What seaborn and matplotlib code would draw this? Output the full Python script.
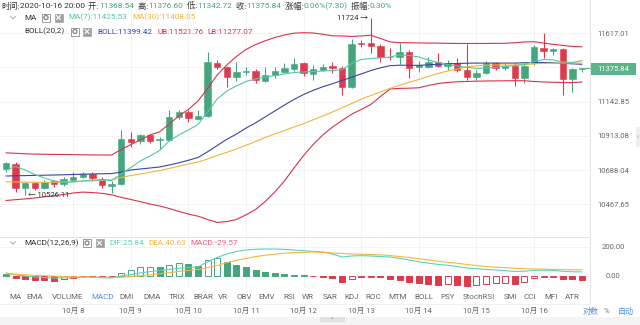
import numpy as np
import pandas as pd
import matplotlib
matplotlib.use("Agg")
import matplotlib.pyplot as plt
from matplotlib.patches import Rectangle, Circle
from matplotlib.lines import Line2D
from matplotlib.ticker import NullLocator
import seaborn as sns

# ---------------- 4h candles, 2020-10-06 20:00 .. 2020-10-16 20:00 ----------------
open_ = [10693, 10730, 10570, 10602, 10574, 10617, 10596, 10624, 10645, 10665,
         10630, 10587, 10598, 10890, 10879, 10919, 10886, 10886, 11037, 11075,
         11024, 11046, 11411, 11378, 11310, 11346, 11353, 11287, 11325, 11348,
         11365, 11406, 11332, 11360, 11388, 11372, 11241, 11548, 11546, 11527,
         11452, 11450, 11483, 11383, 11383, 11413, 11390, 11406, 11360, 11314,
         11341, 11406, 11372, 11390, 11303, 11406, 11515, 11494, 11504, 11296,
         11368.54]
high = [10743, 10743, 10613, 10611, 10624, 10627, 10643, 10674, 10674, 10676,
        10641, 10617, 10949, 10941, 10926, 10926, 10906, 11087, 11087, 11087,
        11087, 11487, 11431, 11388, 11418, 11383, 11365, 11383, 11383, 11406,
        11441, 11416, 11395, 11399, 11416, 11388, 11579, 11569, 11724, 11541,
        11511, 11551, 11499, 11423, 11453, 11480, 11430, 11441, 11541, 11360,
        11425, 11418, 11406, 11406, 11409, 11535, 11617, 11511, 11511, 11377,
        11376.60]
low = [10676, 10548, 10526.11, 10559, 10565, 10580, 10585, 10613, 10636, 10617,
       10570, 10538, 10591, 10841, 10859, 10864, 10824, 10879, 11029, 11008,
       11019, 11039, 11366, 11241, 11287, 11323, 11268, 11277, 11303, 11339,
       11353, 11319, 11291, 11353, 11337, 11185, 11236, 11522, 11476, 11417,
       11429, 11399, 11303, 11348, 11374, 11381, 11360, 11346, 11291, 11291,
       11332, 11360, 11360, 11250, 11268, 11395, 11441, 11464, 11189, 11212,
       11342.72]
close = [10732, 10570, 10602, 10574, 10613, 10596, 10628, 10645, 10665, 10635,
         10591, 10598, 10890, 10871, 10919, 10879, 10890, 11037, 11075, 11031,
         11046, 11418, 11378, 11310, 11344, 11353, 11291, 11325, 11353, 11372,
         11402, 11337, 11365, 11383, 11374, 11245, 11541, 11538, 11529, 11452,
         11448, 11483, 11372, 11395, 11413, 11390, 11411, 11360, 11314, 11341,
         11406, 11372, 11390, 11307, 11390, 11518, 11494, 11504, 11296, 11365,
         11375.84]

# ---------------- overlays ----------------
ma7 = [10688.7, 10711.6, 10688.7, 10659.4, 10636.8, 10617.4, 10607.7, 10610.9, 10617.4, 10623.9,
       10623.9, 10620.6, 10662.7, 10705.1, 10747.5, 10780.2, 10816.4, 10879.2, 10919.1, 10952.6,
       10989.1, 11073.1, 11161.1, 11215.7, 11249.8, 11280.8, 11298.0, 11311.7, 11322.0, 11332.4,
       11342.8, 11346.2, 11349.7, 11353.1, 11356.6, 11362.0, 11405.0, 11433.0, 11439.9, 11443.4,
       11450.4, 11464.3, 11460.8, 11450.4, 11429.4, 11412.0, 11398.1, 11387.7, 11377.3, 11371.8,
       11373.8, 11378.7, 11384.2, 11391.2, 11399.5, 11419.0, 11433.0, 11429.4, 11415.5, 11412.0,
       11425.53]
ma30 = [10612.2, 10610.9, 10609.6, 10608.9, 10608.3, 10608.9, 10610.9, 10613.5, 10616.1, 10618.7,
        10621.2, 10625.1, 10640.0, 10653.0, 10662.7, 10673.7, 10684.8, 10698.5, 10712.9, 10727.9,
        10741.0, 10760.6, 10783.5, 10804.6, 10826.3, 10850.7, 10875.9, 10902.5, 10925.7, 10949.0,
        10972.4, 10994.4, 11020.6, 11046.2, 11073.1, 11101.5, 11130.5, 11159.8, 11184.9, 11208.8,
        11234.1, 11255.3, 11276.1, 11294.5, 11316.5, 11335.8, 11353.1, 11367.0, 11380.8, 11389.1,
        11393.3, 11394.7, 11394.7, 11394.7, 11396.0, 11403.0, 11405.8, 11407.2, 11407.9, 11407.9,
        11408.05]
boll_mid = [10649.7, 10651.0, 10652.3, 10653.6, 10654.9, 10656.2, 10657.5, 10659.4, 10661.4, 10662.7,
            10664.0, 10665.3, 10675.7, 10688.7, 10695.3, 10701.8, 10708.3, 10721.3, 10735.7, 10752.1,
            10770.4, 10807.9, 10849.3, 10890.5, 10925.0, 10965.0, 11000.0, 11040.0, 11080.0, 11120.0,
            11158.0, 11192.0, 11220.0, 11245.0, 11265.0, 11288.0, 11310.0, 11333.0, 11356.0, 11375.0,
            11390.0, 11393.0, 11393.0, 11392.0, 11396.0, 11400.0, 11403.0, 11405.0, 11407.0, 11408.0,
            11408.0, 11408.0, 11408.0, 11408.0, 11410.0, 11413.0, 11412.0, 11410.0, 11406.0, 11403.0,
            11399.42]
boll_ub = [10801.0, 10798.0, 10794.7, 10792.7, 10791.4, 10790.7, 10790.1, 10789.4, 10788.1, 10787.5,
           10786.8, 10786.8, 10823.0, 10855.3, 10887.2, 10919.1, 10940.4, 10992.4, 11046.2, 11090.0,
           11147.5, 11232.8, 11325.5, 11394.7, 11453.9, 11502.8, 11537.8, 11563.9, 11587.2, 11604.9,
           11617.6, 11621.1, 11619.0, 11609.8, 11599.2, 11597.8, 11595.0, 11597.8, 11603.4, 11580.0,
           11556.0, 11551.0, 11550.0, 11549.0, 11548.0, 11547.0, 11546.0, 11545.0, 11545.0, 11545.0,
           11545.0, 11546.0, 11546.0, 11550.0, 11556.0, 11557.0, 11548.0, 11539.0, 11531.0, 11524.0,
           11521.76]
boll_lb = [10492.0, 10497.2, 10502.3, 10508.0, 10515.7, 10522.8, 10530.3, 10540.0, 10545.8, 10542.6,
           10538.0, 10528.4, 10512.4, 10498.4, 10484.3, 10469.6, 10456.8, 10441.0, 10422.5, 10405.9,
           10392.0, 10371.1, 10352.2, 10358.5, 10371.1, 10400.8, 10434.6, 10485.6, 10546.4, 10617.4,
           10701.8, 10783.5, 10855.9, 10919.1, 10971.1, 11015.9, 11058.3, 11090.0, 11123.7, 11178.1,
           11229.4, 11233.5, 11234.8, 11237.6, 11253.3, 11267.0, 11273.9, 11278.7, 11280.8, 11282.8,
           11284.2, 11284.9, 11285.6, 11286.3, 11285.6, 11280.8, 11277.3, 11275.3, 11273.9, 11273.2,
           11277.07]

# ---------------- MACD(12,26,9) ----------------
dif = [19, 7, -2, -9, -13, -17, -15, -13, -11, -12,
       -14, -16, -2, 8, 19, 28, 36, 43, 51, 57,
       61, 95, 126, 150, 167, 177, 182, 184, 184, 182,
       177, 173, 167, 164, 150, 129, 136, 138, 136, 132,
       129, 120, 108, 96, 86, 78, 72, 63, 53, 48,
       43, 39, 35, 29, 31, 37, 38, 37, 30, 27,
       25.84]
dea = [12, 10, 6, 3, 0, -3, -6, -8, -9, -10,
       -11, -12, -11, -6, -1, 6, 13, 21, 29, 36,
       43, 57, 70, 90, 106, 119, 132, 141, 148, 155,
       159, 161, 164, 161, 157, 153, 150, 148, 146, 144,
       139, 132, 126, 117, 108, 100, 92, 86, 77, 70,
       63, 59, 55, 51, 48, 46, 45, 43, 42, 41,
       40.63]
macd_hist = [12, -18, -25, -30, -32, -34, -26, -14, -5, -8,
             -10, -12, 20, 39, 57, 62, 60, 74, 85, 78,
             67, 108, 120, 97, 74, 58, 39, 28, 21, 12,
             7, 3, -4, -6, -13, -41, -21, -9, -6, -9,
             -23, -28, -46, -53, -57, -62, -57, -64, -71, -64,
             -57, -53, -48, -57, -41, -18, -10, -8, -22, -26,
             -29.57]

price_ticks = [10467.65, 10688.04, 10913.08, 11142.85, 11377.40, 11617.01]
price_tick_labels = ["10467.65", "10688.04", "10913.08", "11142.85", "", "11617.01"]
macd_ticks = [0, 200]
macd_tick_labels = ["0.00", "200.00"]
day_labels = ["10月 8", "10月 9", "10月 10", "10月 11", "10月 12",
              "10月 13", "10月 14", "10月 15", "10月 16"]
indicator_tabs = ["MA", "EMA", "VOLUME", "MACD", "DMI", "DMA", "TRIX", "BRAR", "VR",
                  "OBV", "EMV", "RSI", "WR", "SAR", "KDJ", "ROC", "MTM", "BOLL", "PSY",
                  "StochRSI", "SMI", "CCI", "MFI", "ATR"]
active_tab = "MACD"

# ---------------- styling ----------------
GREEN = "#45A57C"
RED = "#DE3A4E"
C_MA7 = "#52C7AA"
C_MA30 = "#F2B43A"
C_MID = "#3A45A6"
C_BAND = "#D93249"
C_DIF = "#5ED2BA"
C_DEA = "#F3B73F"
C_MACD = "#EC5F7E"
TXT = "#333333"
AXT = "#666666"
GRID = "#F1F1F1"
BLUE = "#4A8FE0"

sns.set_theme(style="white")
plt.rcParams["font.family"] = ["Roboto", "Noto Sans CJK SC", "DejaVu Sans"]
plt.rcParams["axes.unicode_minus"] = False

W, H = 640, 325
fig = plt.figure(figsize=(W / 100, H / 100), dpi=100)
fig.patch.set_facecolor("white")

def box(x0, y0, x1, y1):
    return [x0 / W, 1 - y1 / H, (x1 - x0) / W, (y1 - y0) / H]

ax = fig.add_axes(box(0, 0, 590, 236))
axm = fig.add_axes(box(0, 237, 590, 288))

o = np.asarray(open_, float)
c = np.asarray(close, float)
hi = np.asarray(high, float)
lo = np.asarray(low, float)
n = len(c)
idx = np.arange(n)
times = pd.date_range("2020-10-06 20:00", periods=n, freq="4h")
day_pos = [i for i, t in enumerate(times) if t.hour == 0][1:]

# ---- main price panel ----
ax.set_yscale("log")
up = c >= o
ccol = np.where(up, GREEN, RED)
ax.vlines(idx, lo, hi, colors=ccol, linewidth=0.8, zorder=2)
ax.bar(idx, np.abs(c - o), bottom=np.minimum(o, c), width=0.66,
       color=ccol, edgecolor=ccol, linewidth=0.4, zorder=3)

for series, col in [(boll_ub, C_BAND), (boll_lb, C_BAND), (boll_mid, C_MID),
                    (ma30, C_MA30), (ma7, C_MA7)]:
    sns.lineplot(x=idx, y=series, ax=ax, color=col, linewidth=0.8,
                 estimator=None, legend=False, zorder=4)

ax.set_xlim(-0.625, 60.83)
ax.set_ylim(10267.5, 11854.8)
ax.yaxis.tick_right()
ax.set_yticks(price_ticks)
ax.set_yticklabels(price_tick_labels)
ax.yaxis.set_minor_locator(NullLocator())
ax.set_xticks(day_pos)
ax.set_xticklabels([])
ax.tick_params(axis="y", length=0, pad=16.5, labelsize=5.5, labelcolor=AXT)
ax.tick_params(axis="x", length=0)
for lab in ax.get_yticklabels():
    lab.set_horizontalalignment("center")
ax.grid(True, color=GRID, linewidth=0.6)
ax.set_xlabel("")
ax.set_ylabel("")
for s in ["left", "top", "bottom"]:
    ax.spines[s].set_visible(False)
ax.spines["right"].set_color("#E3E3E3")
ax.spines["right"].set_linewidth(0.7)

# extreme price annotations
ax.text(2 + 0.3, low[2], "← " + f"{low[2]:.2f}", fontsize=5.5, color=TXT,
        ha="left", va="center", zorder=6)
ax.text(38 - 0.3, high[38], f"{high[38]:.0f} →", fontsize=5.5, color=TXT,
        ha="right", va="center", zorder=6)

# ---- MACD panel ----
h = np.asarray(macd_hist, float)
hcol = np.where(h >= 0, GREEN, RED)
rising = np.r_[False, h[1:] > h[:-1]]
face = np.where(rising, "white", hcol)
axm.bar(idx, h, width=0.62, color=face, edgecolor=hcol, linewidth=0.7, zorder=3)
sns.lineplot(x=idx, y=dif, ax=axm, color=C_DIF, linewidth=0.8, estimator=None, legend=False, zorder=4)
sns.lineplot(x=idx, y=dea, ax=axm, color=C_DEA, linewidth=0.8, estimator=None, legend=False, zorder=4)
axm.set_xlim(-0.625, 60.83)
axm.set_ylim(-85, 267)
axm.yaxis.tick_right()
axm.set_yticks(macd_ticks)
axm.set_yticklabels(macd_tick_labels)
axm.set_xticks(day_pos)
axm.set_xticklabels(day_labels)
axm.tick_params(axis="y", length=0, pad=16.5, labelsize=5.5, labelcolor=AXT)
axm.tick_params(axis="x", length=0, pad=14, labelsize=5.6, labelcolor=AXT)
for lab in axm.get_yticklabels():
    lab.set_horizontalalignment("center")
axm.grid(True, color=GRID, linewidth=0.6)
axm.set_xlabel("")
axm.set_ylabel("")
for s in ["left", "bottom"]:
    axm.spines[s].set_visible(False)
axm.spines["top"].set_color("#E3E3E3")
axm.spines["top"].set_linewidth(0.7)
axm.spines["right"].set_color("#E3E3E3")
axm.spines["right"].set_linewidth(0.7)

# ---- overlay in pixel coordinates for header rows, tabs and widgets ----
ov = fig.add_axes([0, 0, 1, 1], zorder=10)
ov.set_xlim(0, W)
ov.set_ylim(H, 0)
ov.axis("off")
ov.patch.set_alpha(0)
renderer = fig.canvas.get_renderer()

FS = 5.9

def seq(x, y, parts, size=FS):
    for s, col in parts:
        t = ov.text(x, y, s, color=col, fontsize=size, ha="left", va="center")
        x += t.get_window_extent(renderer=renderer).width
    return x

def chevron(x, y):
    ov.add_line(Line2D([x - 2.5, x, x + 2.5], [y - 1.2, y + 1.2, y - 1.2],
                       color="#AAAAAA", linewidth=0.7))

def gear(x, y):
    ov.add_patch(Rectangle((x, y - 4), 8, 8, facecolor="white", edgecolor="#9A9A9A", linewidth=0.7))
    ov.add_patch(Circle((x + 4, y), 2.0, facecolor="white", edgecolor="#8A8A8A", linewidth=1.0))

def closer(x, y):
    ov.add_patch(Rectangle((x, y - 4), 8, 8, facecolor="#A0A0A0", edgecolor="#A0A0A0", linewidth=0.5))
    ov.add_line(Line2D([x + 2, x + 6], [y - 2, y + 2], color="white", linewidth=0.8))
    ov.add_line(Line2D([x + 2, x + 6], [y + 2, y - 2], color="white", linewidth=0.8))

# row 1: OHLC readout of the last candle, laid out left to right
y1 = 6
row1 = [("时间:", TXT), (times[-1].strftime("%Y-%m-%d %H:%M"), TXT),
        ("  开:", TXT), (f"{o[-1]:.2f}", GREEN),
        ("  高:", TXT), (f"{hi[-1]:.2f}", GREEN),
        ("  低:", TXT), (f"{lo[-1]:.2f}", GREEN),
        ("  收:", TXT), (f"{c[-1]:.2f}", GREEN),
        ("  涨幅:", TXT), ("0.06%(7.30)", GREEN),
        ("  振幅:", TXT), ("0.30%", GREEN)]
seq(1, y1, row1, size=5.95)

# row 2: MA legend
y2 = 17.5
chevron(13, y2)
seq(24, y2, [("MA", TXT)])
gear(42, y2)
closer(54.5, y2)
seq(68, y2, [(f"MA(7):{ma7[-1]:.2f}", C_MA7)])
seq(132, y2, [(f"MA(30):{ma30[-1]:.2f}", C_MA30)])

# row 3: BOLL legend
y3 = 31.5
seq(24, y3, [("BOLL(20,2)", TXT)])
gear(71, y3)
closer(83, y3)
seq(97, y3, [(f"BOLL:{boll_mid[-1]:.2f}", C_MID)])
seq(157, y3, [(f"UB:{boll_ub[-1]:.2f}", C_BAND)])
seq(207, y3, [(f"LB:{boll_lb[-1]:.2f}", C_BAND)])

# MACD legend
ym = 243
chevron(13, ym)
seq(24, ym, [("MACD(12,26,9)", TXT)])
gear(83, ym)
closer(95.5, ym)
seq(109, ym, [(f"DIF:{dif[-1]:.2f}", C_DIF)])
seq(148, ym, [(f"DEA:{dea[-1]:.2f}", C_DEA)])
seq(190, ym, [(f"MACD:{macd_hist[-1]:.2f}", C_MACD)])

# last price tag
ov.add_patch(Rectangle((591, 62.5), 45, 12.5, facecolor="#5DB38C", edgecolor="none"))
ov.text(613.5, 68.8, f"{c[-1]:.2f}", color="white", fontsize=5.5, ha="center", va="center")
ov.add_line(Line2D([585, 591], [68.2, 68.2], color="#5DB38C", linewidth=0.7))

# side handle
ov.add_patch(Rectangle((635.5, 127), 4.5, 20, facecolor="#EFEFEF", edgecolor="none"))
ov.text(637.5, 137, "‹", color="#999999", fontsize=5, ha="center", va="center")

# indicator tabs
tab_x = [15, 35, 68, 103, 127, 152, 177, 203, 223, 244, 267, 289, 308,
         330, 352, 373, 398, 424, 448, 479, 511, 530, 551, 572]
for name, x in zip(indicator_tabs, tab_x):
    ov.text(x, 296.7, name, fontsize=5.8, ha="center", va="center",
            color=BLUE if name == active_tab else AXT)
ov.add_line(Line2D([0, 590], [304, 304], color="#EEEEEE", linewidth=0.6))
ov.add_line(Line2D([590, 590], [288, 304], color="#E3E3E3", linewidth=0.7))

# scale mode switches
ov.text(583, 311, "对数", fontsize=5.8, color=BLUE, ha="left", va="center")
ov.text(606, 311, "%", fontsize=5.6, color="#777777", ha="center", va="center")
ov.text(618, 311, "自动", fontsize=5.8, color=BLUE, ha="left", va="center")

# bottom scroller
ov.add_patch(Rectangle((0, 316.5), W, 8.5, facecolor="#F4F4F4", edgecolor="none"))
ov.add_patch(Rectangle((320, 317), 25, 5, facecolor="#E2E2E2", edgecolor="none"))
ov.text(332.5, 319.5, "^", fontsize=4.5, color="#999999", ha="center", va="center")

fig.savefig("out.png", dpi=100, facecolor="white")
